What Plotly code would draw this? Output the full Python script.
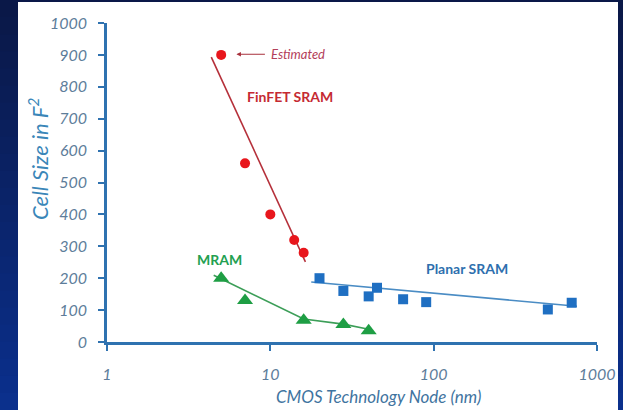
import plotly.graph_objects as go
import numpy as np

# ---- data ----
finfet_node = [5, 7, 10, 14, 16]
finfet_size = [900, 560, 400, 320, 280]
finfet_trend_node = [4.35, 16.4]
finfet_trend_size = [893, 251]

mram_node = [5, 7, 16, 28, 40]
mram_size = [200, 130, 68, 55, 35]
mram_trend_node = [4.5, 16, 28, 40]
mram_trend_size = [209, 72, 56, 40]

planar_node = [20, 28, 40, 45, 65, 90, 500, 700]
planar_size = [200, 160, 143, 170, 134, 125, 102, 123]
planar_trend_node = [17.8, 754]
planar_trend_size = [188, 112]

x_ticks = [1, 10, 100, 1000]
y_ticks = list(range(0, 1001, 100))

W, H = 623, 410
ML, MR, MT, MB = 107, 26, 23, 68
PW, PH = W - ML - MR, H - MT - MB

def px_x(p):
    return (p - ML) / PW

def px_y(p):
    return (H - MB - p) / PH

FONT = "Lato"
AXIS = "#2f72b0"
TICK = "#5d7d9a"

fig = go.Figure()

fig.add_trace(go.Scatter(x=finfet_trend_node, y=finfet_trend_size, mode="lines",
                         line=dict(color="#b5303a", width=1.6), showlegend=False))
fig.add_trace(go.Scatter(x=mram_trend_node, y=mram_trend_size, mode="lines",
                         line=dict(color="#3c9e58", width=1.6), showlegend=False))
fig.add_trace(go.Scatter(x=planar_trend_node, y=planar_trend_size, mode="lines",
                         line=dict(color="#4a8cc4", width=1.6), showlegend=False))

fig.add_trace(go.Scatter(x=finfet_node, y=finfet_size, mode="markers",
                         marker=dict(symbol="circle", size=10, color="#e8161c"), showlegend=False))
fig.add_trace(go.Scatter(x=mram_node, y=mram_size, mode="markers",
                         marker=dict(symbol="triangle-up", size=14, color="#1e9e44"), showlegend=False))
fig.add_trace(go.Scatter(x=planar_node, y=planar_size, mode="markers",
                         marker=dict(symbol="square", size=10, color="#1f6fc2"), showlegend=False))

# background: gradient strips + white panel
shapes = []
n = 24
top = np.array([0x0a, 0x18, 0x48])
bot = np.array([0x0b, 0x30, 0x8c])
for i in range(n):
    c = top + (bot - top) * i / (n - 1)
    y0 = H * i / n
    y1 = H * (i + 1) / n + 1
    shapes.append(dict(type="rect", xref="paper", yref="paper", layer="below",
                       x0=px_x(0), x1=px_x(W), y0=px_y(y1), y1=px_y(y0),
                       line=dict(width=0),
                       fillcolor="rgb(%d,%d,%d)" % tuple(int(v) for v in c)))
shapes.append(dict(type="rect", xref="paper", yref="paper", layer="below",
                   x0=px_x(18), x1=px_x(618), y0=px_y(H + 2), y1=px_y(2),
                   line=dict(width=0), fillcolor="white"))

annotations = [
    dict(x=np.log10(13.2), y=771, xref="x", yref="y", text="<b>FinFET SRAM</b>",
         showarrow=False, font=dict(family=FONT, size=14, color="#c52a32")),
    dict(x=np.log10(4.9), y=259, xref="x", yref="y", text="<b>MRAM</b>",
         showarrow=False, font=dict(family=FONT, size=14, color="#23a050")),
    dict(x=np.log10(161), y=231, xref="x", yref="y", text="<b>Planar SRAM</b>",
         showarrow=False, font=dict(family=FONT, size=14, color="#2e6fae")),
    dict(x=np.log10(6.2), y=902, xref="x", yref="y", text="Estimated",
         showarrow=True, ax=62, ay=0, borderpad=6,
         arrowhead=2, arrowsize=0.9, arrowwidth=1, arrowcolor="#a8303c",
         font=dict(family=FONT, size=13, color="#b3405a", style="italic")),
    dict(x=px_x(38), y=px_y(159), xref="paper", yref="paper", textangle=-90,
         text="Cell Size in F<sup>2</sup>", showarrow=False, xanchor="center", yanchor="middle",
         font=dict(family=FONT, size=22, color="#3a86b8", style="italic")),
    dict(x=px_x(378), y=px_y(396), xref="paper", yref="paper",
         text="CMOS Technology Node (nm)", showarrow=False, xanchor="center", yanchor="middle",
         font=dict(family=FONT, size=17, color="#3f74a0", style="italic")),
]

fig.update_layout(
    width=W, height=H,
    margin=dict(l=ML, r=MR, t=MT, b=MB, autoexpand=False),
    paper_bgcolor="#0b2466", plot_bgcolor="rgba(0,0,0,0)",
    shapes=shapes, annotations=annotations,
    xaxis=dict(type="log", range=[0, 3], tickvals=x_ticks, ticktext=[str(v) for v in x_ticks],
               automargin=False,
               showgrid=False, zeroline=False, showline=True, linecolor=AXIS, linewidth=2.5,
               ticks="outside", ticklen=6, tickwidth=2, tickcolor=AXIS, ticklabelstandoff=10,
               tickfont=dict(family=FONT, size=16, color=TICK, style="italic")),
    yaxis=dict(range=[0, 1000], tickvals=y_ticks, showgrid=False, zeroline=False,
               automargin=False,
               showline=True, linecolor=AXIS, linewidth=2.5,
               ticks="outside", ticklen=6, tickwidth=2, tickcolor=AXIS, ticklabelstandoff=8,
               tickfont=dict(family=FONT, size=16, color=TICK, style="italic")),
)

fig.write_html("out.html", config={"displayModeBar": False},
               post_script="document.body.style.margin='0';")
